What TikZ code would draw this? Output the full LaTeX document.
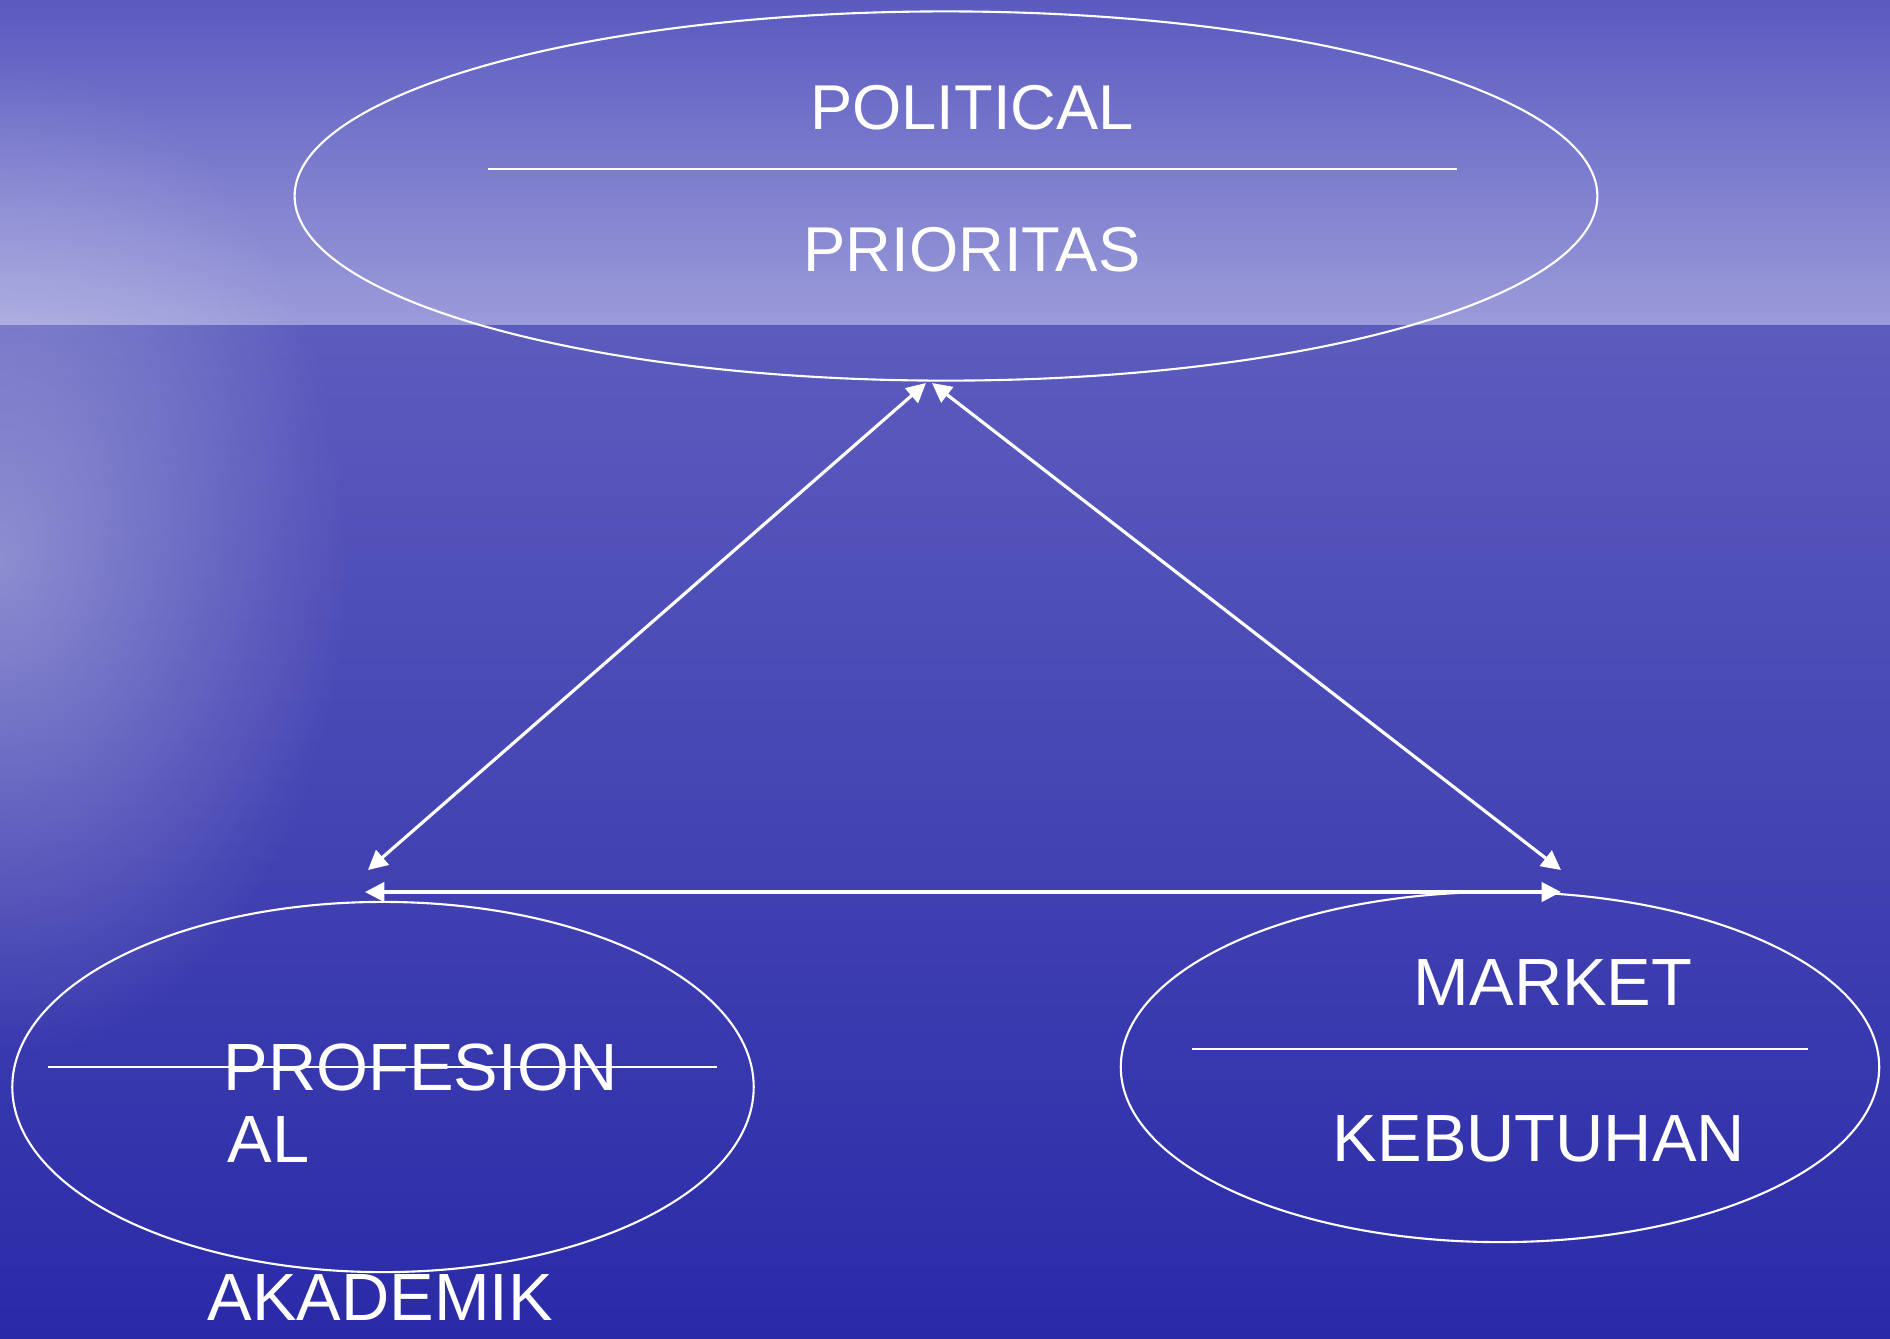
\documentclass[tikz,border=0pt]{standalone}
\usepackage{fontspec}
\setmainfont{Liberation Sans}
\usetikzlibrary{shapes.geometric,arrows.meta,fadings}
\definecolor{skytop}{RGB}{90,90,192}
\definecolor{horizon}{RGB}{155,155,218}
\definecolor{seatop}{RGB}{92,92,190}
\definecolor{seabottom}{RGB}{42,42,168}
\tikzfading[name=glowfade, inner color=transparent!0, outer color=transparent!100]
\tikzset{
  bubble/.style={ellipse, draw=white, line width=0.6pt, inner sep=0pt},
  label/.style={text=white, font=\fontsize{19}{23}\selectfont, inner sep=0pt},
  link/.style={white, line width=0.9pt, {Triangle[length=5.5pt,width=5.5pt]}-{Triangle[length=5.5pt,width=5.5pt]}},
}
\begin{document}
\begin{tikzpicture}[x=0.01cm, y=-0.01cm]
\useasboundingbox (0,0) rectangle (1890,1338);

% Background: sky, horizon and sea
\shade[top color=skytop, bottom color=horizon] (0,0) rectangle (1890,325);
\shade[top color=seatop, bottom color=seabottom] (0,325) rectangle (1890,1338);
\fill[white, opacity=0.35, path fading=glowfade] (0,560) ellipse (3.5cm and 5cm);

% Ellipses
\node[bubble, minimum width=13.02cm, minimum height=3.69cm] (politic) at (946,196) {};
\node[bubble, minimum width=7.41cm, minimum height=3.70cm] (profesi) at (383,1087) {};
\node[bubble, minimum width=7.58cm, minimum height=3.50cm] (market) at (1500,1067) {};

% Dividing lines
\draw[white, line width=0.7pt] (488,169) -- (1457,169);
\draw[white, line width=0.7pt] (48,1067) -- (717,1067);
\draw[white, line width=0.7pt] (1192,1049) -- (1808,1049);

% Labels
\node[label, font=\fontsize{18}{22}\selectfont] (political) at (972,108) {POLITICAL};
\node[label, font=\fontsize{18}{22}\selectfont] (prioritas) at (972,250) {PRIORITAS};
\node[label, anchor=west] (profesion) at (223,1067) {PROFESION};
\node[label, anchor=west] (al) at (227,1139) {AL};
\node[label, anchor=base west] (akademik) at (207,1320) {AKADEMIK};
\node[label] (marketlbl) at (1553,982) {MARKET};
\node[label] (kebutuhan) at (1539,1139) {KEBUTUHAN};

% Arrow end points
\coordinate (apexL) at (926,383);
\coordinate (apexR) at (932,383);
\coordinate (cornerL) at (368,870);
\coordinate (cornerR) at (1561,870);
\coordinate (baseL) at (365,892);
\coordinate (baseR) at (1561,892);

% Connectors
\draw[link] (cornerL) -- (apexL);
\draw[link] (apexR) -- (cornerR);
\draw[link] (baseL) -- (baseR);

\end{tikzpicture}
\end{document}
